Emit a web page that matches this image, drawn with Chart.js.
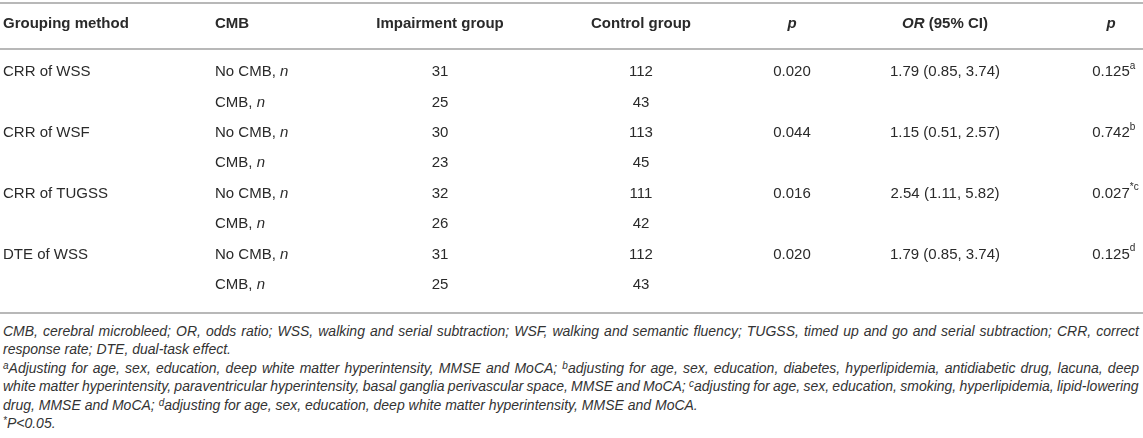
<!DOCTYPE html>
<html>
<head>
<meta charset="utf-8">
<script src="https://cdn.jsdelivr.net/npm/chart.js@4.4.0/dist/chart.umd.min.js"></script>
<style>
  body { margin: 0; background: #fff; }
  #wrap { position: relative; width: 1143px; height: 438px; overflow: hidden; }
  #tableBox { position: absolute; left: 0; top: 0; width: 1143px; height: 316px; }
  #notes { position: absolute; left: 3px; top: 322px; width: 1136px;
           font: italic 14px "Liberation Sans", Arial, sans-serif; color: #333; line-height: 18.4px; }
  #notes div { white-space: nowrap; }
  #notes sup { font-size: 10px; vertical-align: 4px; line-height: 0; }
</style>
</head>
<body>
<div id="wrap">
  <div id="tableBox"><canvas id="tableChart"></canvas></div>
  <div id="notes">
    <div class="full">CMB, cerebral microbleed; OR, odds ratio; WSS, walking and serial subtraction; WSF, walking and semantic fluency; TUGSS, timed up and go and serial subtraction; CRR, correct</div>
    <div>response rate; DTE, dual-task effect.</div>
    <div class="full"><sup>a</sup>Adjusting for age, sex, education, deep white matter hyperintensity, MMSE and MoCA; <sup>b</sup>adjusting for age, sex, education, diabetes, hyperlipidemia, antidiabetic drug, lacuna, deep</div>
    <div class="full">white matter hyperintensity, paraventricular hyperintensity, basal ganglia perivascular space, MMSE and MoCA; <sup>c</sup>adjusting for age, sex, education, smoking, hyperlipidemia, lipid-lowering</div>
    <div>drug, MMSE and MoCA; <sup>d</sup>adjusting for age, sex, education, deep white matter hyperintensity, MMSE and MoCA.</div>
    <div><sup>*</sup>P&lt;0.05.</div>
  </div>
</div>
<script>
// datos de la tabla
const groupingMethods = ['CRR of WSS', 'CRR of WSF', 'CRR of TUGSS', 'DTE of WSS'];
const cmbStatus = ['No CMB', 'CMB'];
const impairmentGroup = [31, 25, 30, 23, 32, 26, 31, 25];
const controlGroup = [112, 43, 113, 45, 111, 42, 112, 43];
const pValues = ['0.020', '0.044', '0.016', '0.020'];
const oddsRatio = [1.79, 1.15, 2.54, 1.79];
const ciLower = [0.85, 0.51, 1.11, 0.85];
const ciUpper = [3.74, 2.57, 5.82, 3.74];
const pAdjusted = ['0.125', '0.742', '0.027', '0.125'];
const pAdjustedMarks = ['a', 'b', '*c', 'd'];

// disposición (columnas en px, filas en índice)
const colX = [3, 215, 440, 641, 792, 945, 1111];
const colAlign = ['left', 'left', 'center', 'center', 'center', 'center', 'center'];
const headerRow = -0.58;
const ruleRows = [-1.27, 0.245, 8.92];

const FAMILY = '"Liberation Sans", Arial, sans-serif';
const F = {
  reg: '15px ' + FAMILY,
  it: 'italic 15px ' + FAMILY,
  bold: 'bold 15px ' + FAMILY,
  boldIt: 'italic bold 15px ' + FAMILY,
  sup: '10px ' + FAMILY
};
const TEXT = '#2a2a2a';

// celdas: cada una es una lista de tramos de texto
const headerCells = [
  [{ t: 'Grouping method', f: F.bold }],
  [{ t: 'CMB', f: F.bold }],
  [{ t: 'Impairment group', f: F.bold }],
  [{ t: 'Control group', f: F.bold }],
  [{ t: 'p', f: F.boldIt }],
  [{ t: 'OR', f: F.boldIt }, { t: ' (95% CI)', f: F.bold }],
  [{ t: 'p', f: F.boldIt }]
];

function buildColumns() {
  const cols = [[], [], [], [], [], [], []];
  impairmentGroup.forEach((v, i) => {
    const row = i + 1;
    const g = Math.floor(i / 2);
    const first = i % 2 === 0;
    if (first) cols[0].push({ x: colX[0], y: row, runs: [{ t: groupingMethods[g], f: F.reg }] });
    cols[1].push({ x: colX[1], y: row, runs: [{ t: cmbStatus[i % 2] + ', ', f: F.reg }, { t: 'n', f: F.it }] });
    cols[2].push({ x: colX[2], y: row, runs: [{ t: String(v), f: F.reg }] });
    cols[3].push({ x: colX[3], y: row, runs: [{ t: String(controlGroup[i]), f: F.reg }] });
    if (first) {
      cols[4].push({ x: colX[4], y: row, runs: [{ t: pValues[g], f: F.reg }] });
      const orTxt = oddsRatio[g].toFixed(2) + ' (' + ciLower[g].toFixed(2) + ', ' + ciUpper[g].toFixed(2) + ')';
      cols[5].push({ x: colX[5], y: row, runs: [{ t: orTxt, f: F.reg }] });
      cols[6].push({ x: colX[6], y: row, runs: [{ t: pAdjusted[g], f: F.reg }, { t: pAdjustedMarks[g], f: F.sup, dy: -6, hang: true }] });
    }
  });
  headerCells.forEach((runs, c) => cols[c].push({ x: colX[c], y: headerRow, runs: runs }));
  return cols;
}

function drawRuns(ctx, runs, x, y, align) {
  let w = 0;
  runs.forEach(r => { ctx.font = r.f; r.w = ctx.measureText(r.t).width; if (!r.hang) w += r.w; });
  let cx = align === 'center' ? x - w / 2 : x;
  runs.forEach(r => {
    ctx.font = r.f;
    ctx.fillText(r.t, cx, y + (r.dy || 0));
    cx += r.w;
  });
}

const tablePlugin = {
  id: 'tablePlugin',
  afterDatasetsDraw(chart) {
    const ctx = chart.ctx;
    const ys = chart.scales.y;
    ctx.save();
    // líneas horizontales
    ctx.strokeStyle = '#b8b8b8';
    ctx.lineWidth = 2;
    ruleRows.forEach(r => {
      const py = Math.round(ys.getPixelForValue(r));
      ctx.beginPath();
      ctx.moveTo(0, py);
      ctx.lineTo(chart.width, py);
      ctx.stroke();
    });
    // texto de las celdas
    ctx.fillStyle = TEXT;
    ctx.textBaseline = 'middle';
    ctx.textAlign = 'left';
    chart.data.datasets.forEach((ds, di) => {
      const meta = chart.getDatasetMeta(di);
      meta.data.forEach((pt, i) => {
        drawRuns(ctx, ds.data[i].runs, pt.x, pt.y, colAlign[di]);
      });
    });
    ctx.restore();
  }
};

const columns = buildColumns();
new Chart(document.getElementById('tableChart'), {
  type: 'scatter',
  data: {
    datasets: columns.map((pts, c) => ({
      label: 'col' + c,
      data: pts,
      pointRadius: 0,
      pointHoverRadius: 0,
      showLine: false
    }))
  },
  options: {
    responsive: true,
    maintainAspectRatio: false,
    animation: false,
    layout: { padding: 0 },
    events: [],
    plugins: { legend: { display: false }, tooltip: { enabled: false } },
    scales: {
      x: { type: 'linear', display: false, min: 0, max: 1143 },
      y: { type: 'linear', display: false, reverse: true, min: -1.366, max: 9.019 }
    }
  },
  plugins: [tablePlugin]
});

// ajustar las líneas completas del pie al ancho de la tabla
const notesBox = document.getElementById('notes');
const target = notesBox.clientWidth;
notesBox.querySelectorAll('div.full').forEach(line => {
  const words = line.textContent.split(' ').length - 1;
  const natural = line.scrollWidth > target ? line.scrollWidth : (function () {
    line.style.display = 'inline-block';
    const w = line.getBoundingClientRect().width;
    line.style.display = '';
    return w;
  })();
  line.style.wordSpacing = ((target - natural) / words).toFixed(2) + 'px';
});
</script>
</body>
</html>
